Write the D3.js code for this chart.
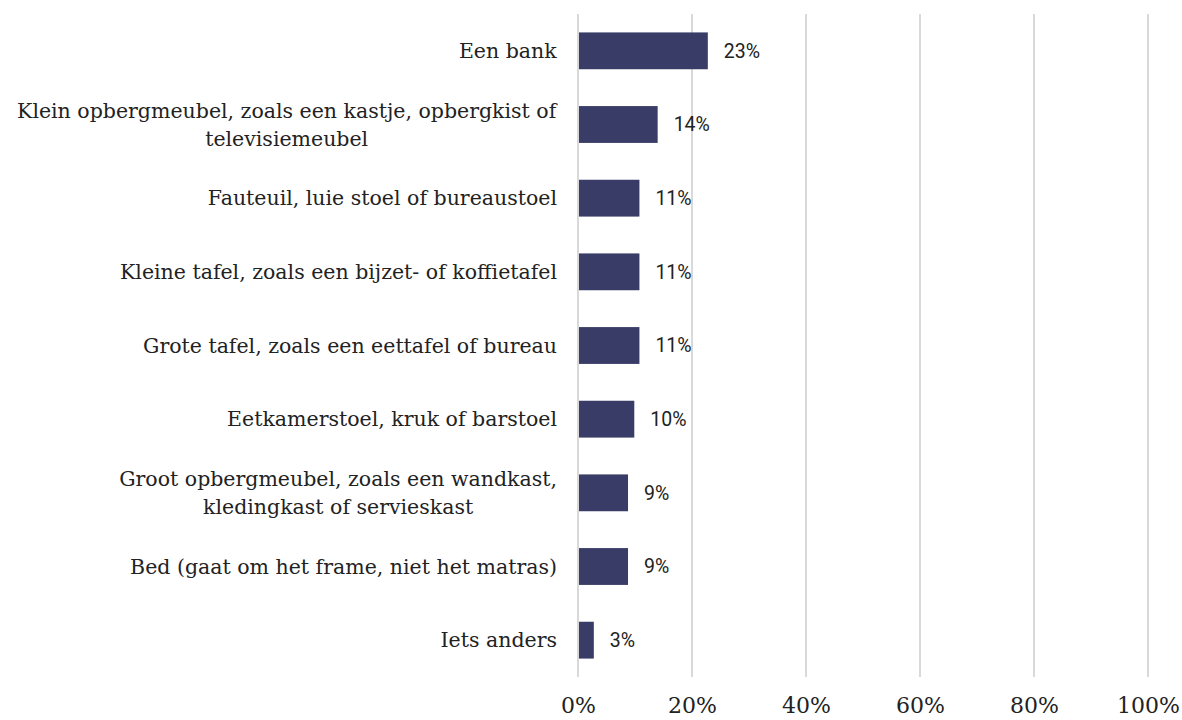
<!DOCTYPE html>
<html>
<head>
<meta charset="utf-8">
<script src="https://cdn.jsdelivr.net/npm/d3@7"></script>
<style>
  body { margin: 0; background: #fff; }
  .cat { font-family: "DejaVu Serif", serif; font-size: 20.5px; fill: #222; }
  .val { font-family: Roboto, "Noto Sans", sans-serif; font-size: 19.5px; fill: #222; }
  .tick text { font-family: "DejaVu Serif", serif; font-size: 22px; fill: #222; }
</style>
</head>
<body>
<script>
// categories (label lines as wrapped in the original)
var categories = [
  ["Een bank"],
  ["Klein opbergmeubel, zoals een kastje, opbergkist of", "televisiemeubel"],
  ["Fauteuil, luie stoel of bureaustoel"],
  ["Kleine tafel, zoals een bijzet- of koffietafel"],
  ["Grote tafel, zoals een eettafel of bureau"],
  ["Eetkamerstoel, kruk of barstoel"],
  ["Groot opbergmeubel, zoals een wandkast,", "kledingkast of servieskast"],
  ["Bed (gaat om het frame, niet het matras)"],
  ["Iets anders"]
];
// share in percent
var values = [22.6, 13.8, 10.6, 10.6, 10.6, 9.7, 8.6, 8.6, 2.6];
var ticks = [0, 20, 40, 60, 80, 100];

var width = 1182, height = 720;
var svg = d3.select("body").append("svg")
    .attr("width", width)
    .attr("height", height);

var x = d3.scaleLinear().domain([0, 100]).range([578, 1148]);
var y = d3.scaleBand()
    .domain(d3.range(categories.length))
    .range([14, 677])
    .paddingInner(0.5)
    .paddingOuter(0.25);

// gridlines
svg.selectAll(".grid")
  .data(ticks)
  .enter().append("line")
    .attr("class", "grid")
    .attr("x1", function(d) { return x(d); })
    .attr("x2", function(d) { return x(d); })
    .attr("y1", 14)
    .attr("y2", 677)
    .style("stroke", "#d9d9d9")
    .style("stroke-width", 2);

// bars
svg.selectAll(".bar")
  .data(values)
  .enter().append("rect")
    .attr("class", "bar")
    .attr("x", x(0) + 1)
    .attr("y", function(d, i) { return y(i); })
    .attr("width", function(d) { return x(d) - x(0); })
    .attr("height", y.bandwidth())
    .style("fill", "#383c66");

// value labels
svg.selectAll(".val")
  .data(values)
  .enter().append("text")
    .attr("class", "val")
    .attr("x", function(d) { return x(d) + 17; })
    .attr("y", function(d, i) { return y(i) + y.bandwidth() / 2; })
    .attr("dy", "0.35em")
    .text(function(d) { return Math.round(d) + "%"; });

// category labels
var lineH = 28;
var cat = svg.selectAll(".cat")
  .data(categories)
  .enter().append("text")
    .attr("class", "cat")
    .attr("text-anchor", "middle")
    .attr("y", function(d, i) { return y(i) + y.bandwidth() / 2; });

cat.each(function(lines) {
  var t = d3.select(this);
  var n = lines.length;
  lines.forEach(function(l, k) {
    t.append("tspan")
      .attr("x", 0)
      .attr("y", +t.attr("y") + (k - (n - 1) / 2) * lineH)
      .attr("dy", "0.35em")
      .text(l);
  });
  // right edge of widest line sits at 557, shorter lines centred under it
  var w = this.getBBox().width;
  t.selectAll("tspan").attr("x", 557 - w / 2);
});

// x axis labels
var axis = svg.append("g")
    .attr("transform", "translate(0,694)")
    .call(d3.axisBottom(x).tickValues(ticks).tickSize(0).tickFormat(function(d) { return d + "%"; }));
axis.select(".domain").remove();
</script>
</body>
</html>
